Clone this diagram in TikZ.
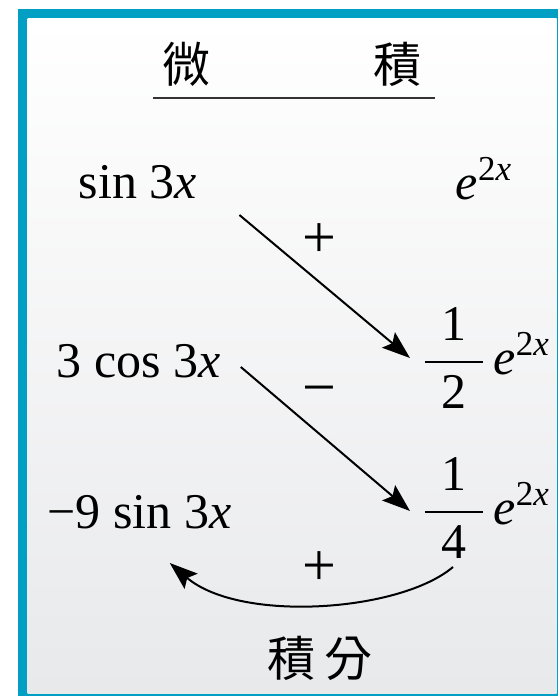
\documentclass[tikz,border=0pt]{standalone}
\usepackage{amsmath}
\usepackage{fontspec}
\setmainfont{Liberation Serif}
\newfontfamily\cjk{Noto Sans CJK TC}
\usetikzlibrary{arrows.meta}
\definecolor{framecyan}{HTML}{009FC3}
\definecolor{paper}{HTML}{E8E9EB}
\newcommand{\etwox}{\textit{e}^{\textrm{2}\textit{x}}}

\begin{document}
\begin{tikzpicture}[x=0.5pt,y=-0.5pt,txt/.style={inner sep=0pt,font=\fontsize{25}{30}\selectfont},head/.style={inner sep=0pt,font=\cjk\fontsize{24}{28}\selectfont},sgn/.style={inner sep=0pt,font=\fontsize{30}{36}\selectfont},arr/.style={-{Stealth[length=14pt,width=10pt,inset=2.5pt]},line width=1pt}]
\useasboundingbox (0,0) rectangle (558,696);
\fill[framecyan] (18,8.5) rectangle (558,696);
\shade[top color=white,bottom color=paper] (27.5,18) rectangle (556.5,693);
\node[head] (wei) at (186,64) {微};
\node[head] (ji) at (397,64) {積};
\draw[line width=0.9pt,black!80] (153,98) -- (435,98);
\node[txt,anchor=base] (sin) at (138,198) {sin 3\textit{x}};
\node[txt,anchor=base] (exp) at (484,199) {$\etwox$};
\node[txt,anchor=base] (cos) at (138.5,377) {3 cos 3\textit{x}};
\node[txt,anchor=base west] (half) at (422,374) {$\dfrac{\mkern6mu\textrm{1}\mkern6mu}{\mkern6mu\textrm{2}\mkern6mu}\,\etwox$};
\node[txt,anchor=base] (msin) at (139.5,528) {−9 sin 3\textit{x}};
\node[txt,anchor=base west] (quarter) at (422,524) {$\dfrac{\mkern6mu\textrm{1}\mkern6mu}{\mkern6mu\textrm{4}\mkern6mu}\,\etwox$};
\node[sgn] (plusA) at (319,241) {+};
\node[sgn] (minusB) at (319,397) {−};
\node[sgn] (plusC) at (319,569) {+};
\node[head] (jifen) at (320,658) {積\hspace{0.2em}分};
\draw[arr] ([shift={(42,17)}]sin.base east) -- ([shift={(-12,-16)}]half.base west);
\draw[arr] ([shift={(20,-10)}]cos.base east) -- ([shift={(-12,-13)}]quarter.base west);
\draw[arr] ([shift={(31,43)}]quarter.base west) .. controls +(-53,45) and +(70,60) .. ([shift={(-62,35)}]msin.base east);
\end{tikzpicture}
\end{document}
